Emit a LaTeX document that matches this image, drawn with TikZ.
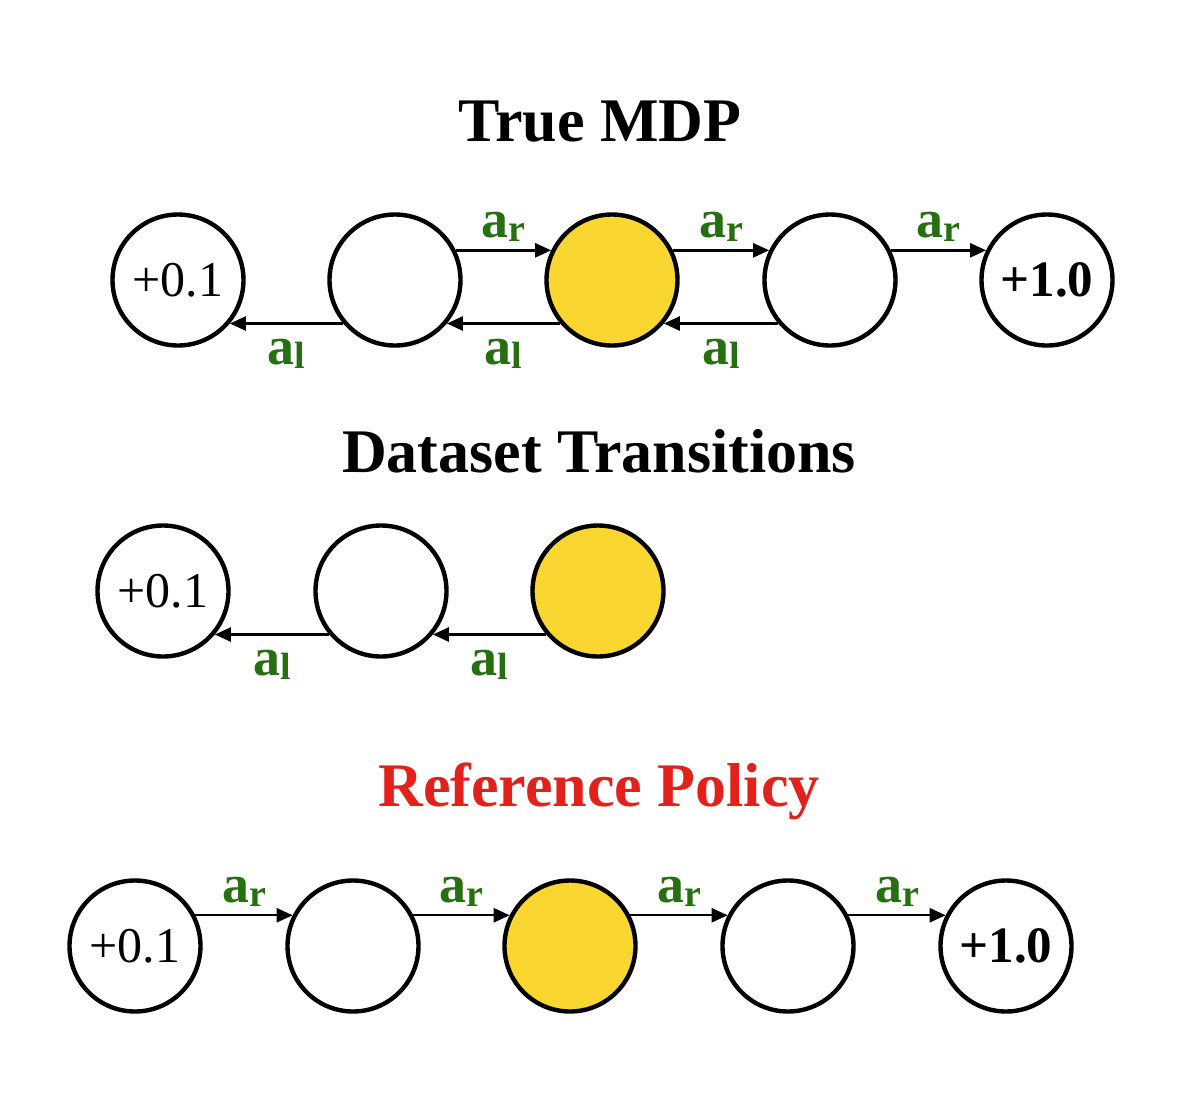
\documentclass[tikz,border=0pt]{standalone}
\usepackage{fontspec}
\setmainfont{Liberation Serif}
\usetikzlibrary{arrows.meta}
\definecolor{gold}{RGB}{249,214,48}
\definecolor{agreen}{RGB}{38,112,18}
\definecolor{tred}{RGB}{226,33,29}
\newcommand{\actR}{a\raisebox{-2pt}{\fontsize{19}{19}\selectfont r}}
\newcommand{\actL}{a\raisebox{-2pt}{\fontsize{19}{19}\selectfont l}}
\begin{document}
\begin{tikzpicture}[x=0.5pt,y=-0.5pt,
 state/.style={circle, draw, line width=2.2pt, minimum size=65.5pt, inner sep=0pt, fill=white, font=\fontsize{25}{25}\selectfont},
 goal/.style={state, fill=gold},
 arr/.style={-{Triangle[length=8pt,width=7pt]}, line width=1.2pt},
 lab/.style={text=agreen, font=\fontsize{27}{27}\selectfont\bfseries, inner sep=0pt},
 title/.style={font=\fontsize{31}{31}\selectfont\bfseries, anchor=base}]
\useasboundingbox (0,0) rectangle (1196,1099);

% ---------- True MDP ----------
\node[title] (t1) at (600,141) {True MDP};
\node[state] (a1) at (178,280) {+0.1};
\node[state] (a2) at (395,280) {};
\node[goal]  (a3) at (612,280) {};
\node[state] (a4) at (830,280) {};
\node[state, font=\fontsize{25.5}{25.5}\selectfont\bfseries] (a5) at (1047,280) {+1.0};

\draw[arr] (a2.26) -- node[lab, above=4pt] (la1) {\actR} (a3.154);
\draw[arr] (a3.26) -- node[lab, above=4pt] (la2) {\actR} (a4.154);
\draw[arr] (a4.26) -- node[lab, above=4pt] (la3) {\actR} (a5.154);
\draw[arr] (a2.220) -- node[lab, below=7pt] (lb1) {\actL} (a1.-40);
\draw[arr] (a3.220) -- node[lab, below=7pt] (lb2) {\actL} (a2.-40);
\draw[arr] (a4.220) -- node[lab, below=7pt] (lb3) {\actL} (a3.-40);

% ---------- Dataset Transitions ----------
\node[title] (t2) at (599,472) {Dataset Transitions};
\node[state] (b1) at (163,591) {+0.1};
\node[state] (b2) at (381,591) {};
\node[goal]  (b3) at (598,591) {};

\draw[arr] (b2.220) -- node[lab, below=7pt] (lc1) {\actL} (b1.-40);
\draw[arr] (b3.220) -- node[lab, below=7pt] (lc2) {\actL} (b2.-40);

% ---------- Reference Policy ----------
\node[title, text=tred] (t3) at (599,806) {Reference Policy};
\node[state] (c1) at (135,946) {+0.1};
\node[state] (c2) at (353,946) {};
\node[goal]  (c3) at (570,946) {};
\node[state] (c4) at (788,946) {};
\node[state, font=\fontsize{25.5}{25.5}\selectfont\bfseries] (c5) at (1006,946) {+1.0};

\draw[arr] (c1.27) -- node[lab, above=4pt] (ld1) {\actR} (c2.153);
\draw[arr] (c2.27) -- node[lab, above=4pt] (ld2) {\actR} (c3.153);
\draw[arr] (c3.27) -- node[lab, above=4pt] (ld3) {\actR} (c4.153);
\draw[arr] (c4.27) -- node[lab, above=4pt] (ld4) {\actR} (c5.153);
\end{tikzpicture}
\end{document}
